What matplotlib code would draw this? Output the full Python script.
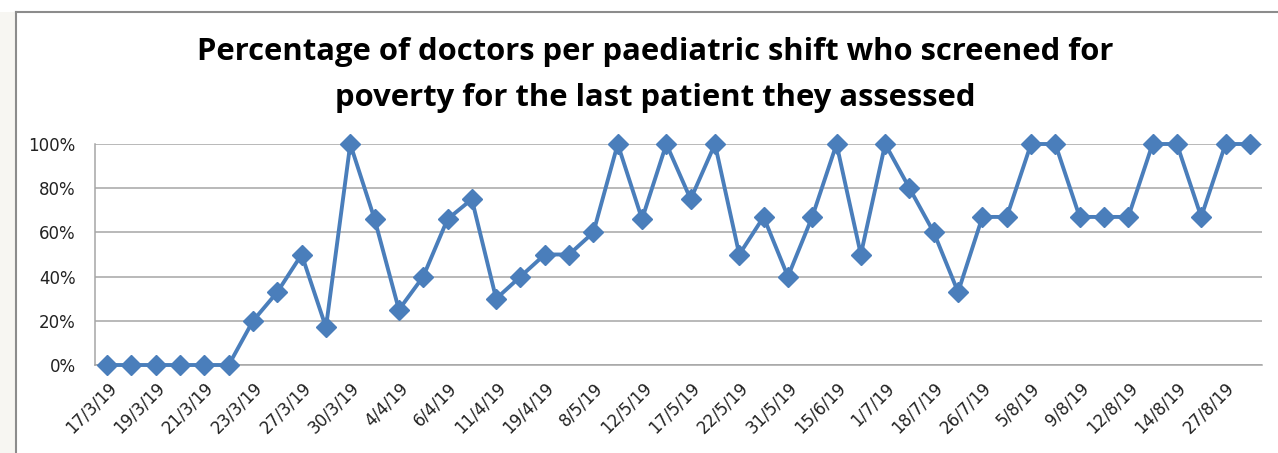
import matplotlib
matplotlib.use("Agg")
import matplotlib.pyplot as plt
from matplotlib.lines import Line2D
from matplotlib.patches import Rectangle
import numpy as np

title = "Percentage of doctors per paediatric shift who screened for\npoverty for the last patient they assessed"
tick_labels = ["17/3/19", "19/3/19", "21/3/19", "23/3/19", "27/3/19", "30/3/19",
               "4/4/19", "6/4/19", "11/4/19", "19/4/19", "8/5/19", "12/5/19",
               "17/5/19", "22/5/19", "31/5/19", "15/6/19", "1/7/19", "18/7/19",
               "26/7/19", "5/8/19", "9/8/19", "12/8/19", "14/8/19", "27/8/19"]
values = [0, 0, 0, 0, 0, 0, 20, 33, 50, 17, 100, 66, 25, 40, 66, 75,
          30, 40, 50, 50, 60, 100, 66, 100, 75, 100, 50, 67, 40, 67, 100, 50,
          100, 80, 60, 33, 67, 67, 100, 100, 67, 67, 67, 100, 100, 67, 100, 100]
y_ticks = [0, 20, 40, 60, 80, 100]

W, H = 1278, 453
fig = plt.figure(figsize=(W/100, H/100), dpi=100)
fig.patch.set_facecolor("white")

# left pale strip and chart frame
fig.patches.append(Rectangle((0, 0), 15/W, 1 - 12/H, transform=fig.transFigure,
                             facecolor="#f7f6f2", edgecolor="none", zorder=0))
fig.lines.append(Line2D([16/W, 16/W], [0, 1 - 12/H], transform=fig.transFigure,
                        color="#8c8c8c", lw=1.5))
fig.lines.append(Line2D([16/W, 1], [1 - 12/H, 1 - 12/H], transform=fig.transFigure,
                        color="#8c8c8c", lw=1.5))

left, right = 95/W, 1262/W
bottom, top = 1 - 365/H, 1 - 144/H
ax = fig.add_axes([left, bottom, right - left, top - bottom])

x = np.arange(len(values))
ax.plot(x, values, color="#4A7EBB", lw=2.8, marker="D", markersize=10,
        markerfacecolor="#4A7EBB", markeredgecolor="#4A7EBB", zorder=3, clip_on=False)

ax.set_xlim(-0.5, len(values) - 0.5)
ax.set_ylim(0, 100)
ax.set_yticks(y_ticks)
ax.set_yticklabels([f"{v}%" for v in y_ticks], fontsize=12, color="#222222")
ax.yaxis.grid(True, color="#a6a6a6", lw=1.1)
ax.set_axisbelow(True)
ax.set_xticks(x[::2])
ax.set_xticklabels(tick_labels, rotation=45, ha="right", rotation_mode="anchor",
                   fontsize=12, color="#222222")
ax.tick_params(axis="both", length=0)
ax.tick_params(axis="x", pad=10)
ax.tick_params(axis="y", pad=14)
for s in ["top", "right"]:
    ax.spines[s].set_visible(False)
ax.spines["bottom"].set_color("#a6a6a6")
ax.spines["left"].set_color("#a6a6a6")
ax.spines["bottom"].set_linewidth(1.1)
ax.spines["left"].set_linewidth(1.1)

fig.text(655/W, 1 - 75/H, title, ha="center", va="center",
         fontsize=22.3, fontweight="bold", family="Open Sans", linespacing=1.72)

fig.savefig("out.png", dpi=100)
